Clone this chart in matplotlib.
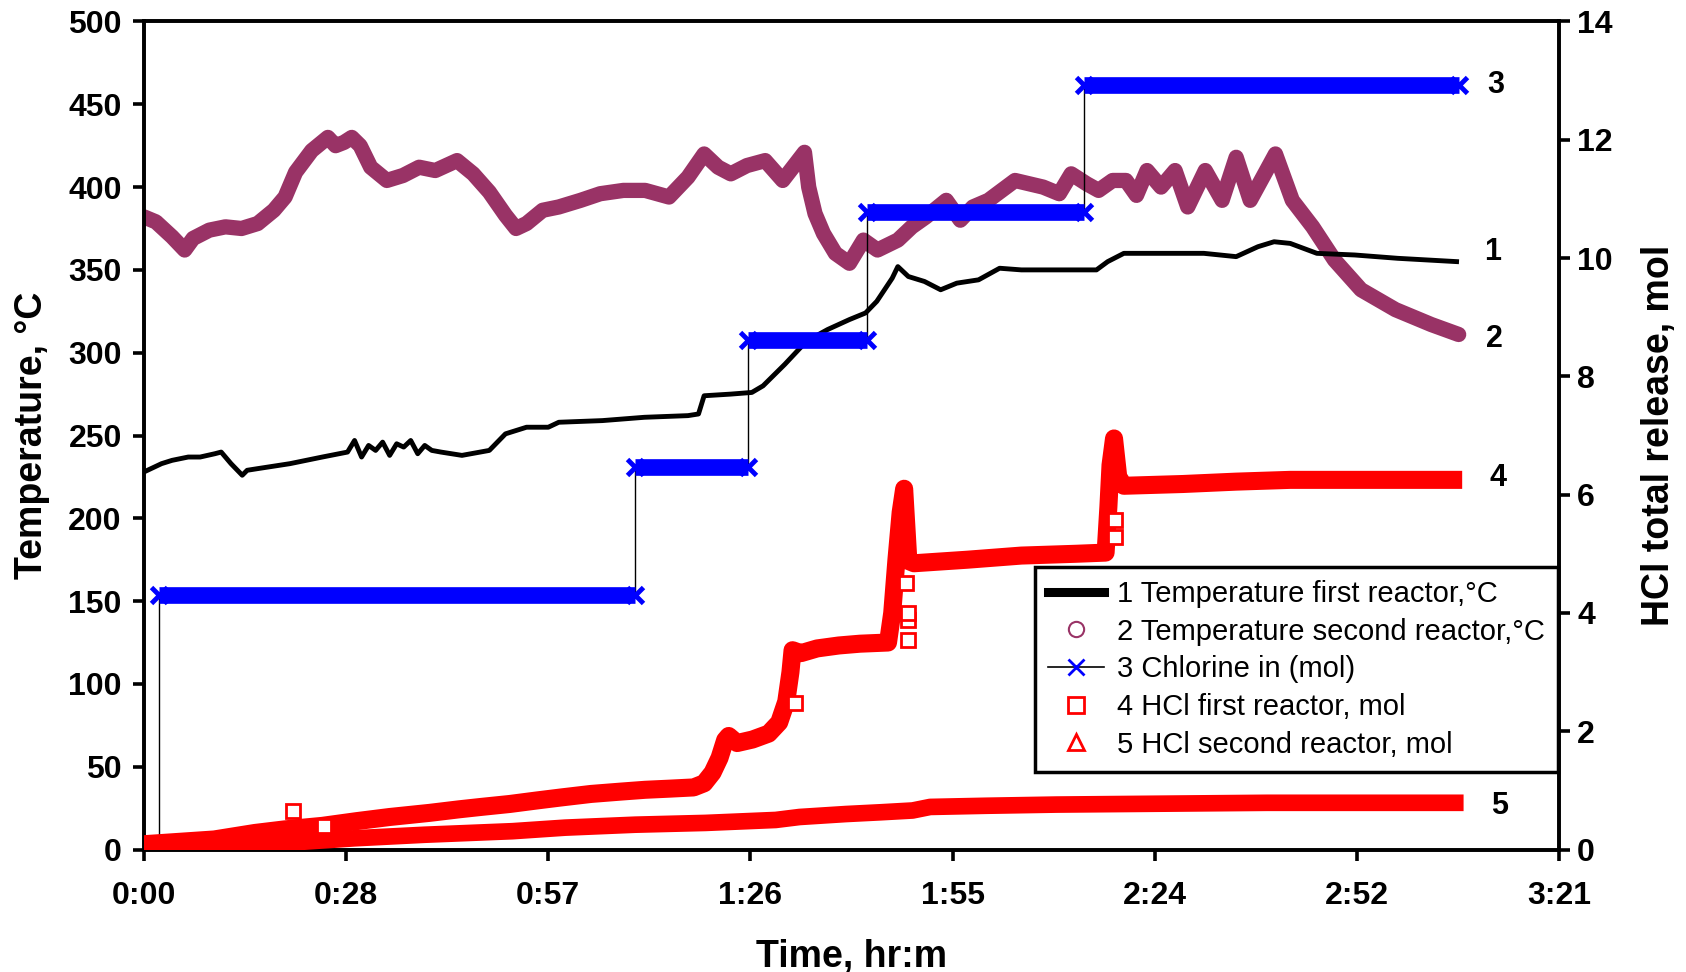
import numpy as np
import matplotlib
matplotlib.use("Agg")
import matplotlib.pyplot as plt
from matplotlib.lines import Line2D

plt.rcParams['font.family'] = ['Liberation Sans', 'DejaVu Sans']
plt.rcParams['font.weight'] = 'bold'

# ---------------- data (time in minutes) ----------------
t_temp1 = [0, 1.5, 2.5, 4.0, 6.3, 8.0, 10.1, 11.0, 12.4, 14.0, 14.7, 16.2, 20.8, 25.4,
           29.0, 30.0, 31.0, 32.0, 33.0, 34.0, 35.0, 36.0, 37.0, 38.0, 39.0, 40.0, 41.0,
           42.3, 45.3, 49.2, 51.5, 54.5, 57.6, 59.1, 65.3, 71.3, 77.5, 79.0, 79.8, 83.6,
           86.6, 88.2, 91.3, 94.4, 97.4, 100.5, 102.8, 104.4, 106.6, 107.4, 108.9, 111.2,
           113.5, 115.8, 118.9, 121.9, 125.0, 129.6, 135.7, 137.3, 139.6, 144.9, 151.0,
           155.6, 158.7, 161.0, 163.3, 167.1, 172.5, 178.6, 187.0]
temp1 = [228, 231, 233, 235, 237, 237, 239, 240, 233, 226, 229, 230, 233, 237,
         240, 247, 237, 244, 241, 246, 238, 245, 243, 247, 239, 244, 241,
         240, 238, 241, 251, 255, 255, 258, 259, 261, 262, 263, 274, 275,
         276, 280, 293, 307, 314, 320, 324, 331, 345, 352, 346, 343,
         338, 342, 344, 351, 350, 350, 350, 355, 360, 360, 360,
         358, 364, 367, 366, 360, 359, 357, 355]

t_temp2 = [0, 1.7, 4.0, 5.8, 7.0, 9.3, 11.6, 13.9, 16.2, 18.5, 20.1, 21.6, 23.9, 26.2,
           27.3, 28.5, 29.6, 30.8, 32.3, 34.6, 36.9, 39.2, 41.5, 44.6, 46.9, 49.2, 51.5,
           53.0, 54.5, 56.8, 59.1, 62.2, 65.0, 68.3, 71.4, 74.8, 77.5, 79.8, 81.8, 83.6,
           85.9, 88.5, 91.0, 94.1, 94.7, 95.6, 96.8, 98.5, 100.5, 102.5, 104.5, 107.4,
           109.4, 111.4, 114.3, 116.3, 118.1, 120.3, 124.1, 128.1, 130.4, 132.1, 134.3,
           136.0, 138.0, 139.9, 141.4, 142.9, 144.9, 146.9, 148.7, 151.2, 153.6, 155.6,
           157.6, 161.2, 163.6, 166.5, 169.6, 173.4, 178.3, 183.4, 187.3]
temp2 = [382, 379, 370, 362, 369, 374, 376, 375, 378, 386, 394, 409, 422, 430,
         425, 427, 430, 425, 412, 404, 407, 412, 410, 416, 408, 397, 383,
         375, 378, 386, 388, 392, 396, 398, 398, 394, 406, 420, 412, 408,
         413, 416, 404, 421, 400, 384, 372, 360, 354, 368, 362, 368,
         376, 382, 392, 380, 388, 392, 404, 400, 396, 408, 402,
         398, 404, 404, 395, 410, 400, 410, 388, 410, 392, 418,
         392, 420, 392, 376, 356, 338, 326, 317, 311]

cl_start_level = 0.0
cl_step_t = [2.1, 69.9, 86.0, 103.0, 133.9]
cl_level = [4.31, 6.47, 8.62, 10.78, 12.93]
cl_end_t = 187.4

t_hcl1 = [0, 5, 10, 15.8, 20, 25.4, 30.3, 35, 40.7, 44.9, 48, 52.1, 56, 59.4, 63.7, 68,
          71.4, 75, 78.3, 79.8, 81.0, 82.0, 82.8, 83.3, 84.5, 86.7, 89.0, 90.5, 91.5,
          92.1, 92.4, 93.6, 95.9, 99.0, 102.0, 106.0, 106.6, 107.2, 107.8, 108.3,
          108.9, 109.7, 117.3, 125.0, 132.7, 137.0, 137.4, 137.7, 138.2, 138.8,
          139.6, 148.0, 155.6, 163.3, 175.0, 187.8]
hcl1 = [0.09, 0.13, 0.17, 0.28, 0.34, 0.40, 0.48, 0.55, 0.62, 0.68, 0.72, 0.77, 0.83,
        0.88, 0.94, 0.98, 1.01, 1.03, 1.05, 1.12, 1.30, 1.55, 1.85, 1.92, 1.80, 1.86,
        1.96, 2.15, 2.5, 3.0, 3.37, 3.32, 3.40, 3.45, 3.48, 3.50, 4.0, 4.9, 5.7, 6.1,
        4.88, 4.84, 4.90, 4.97, 5.0, 5.02, 5.8, 6.5, 6.95, 6.3,
        6.15, 6.18, 6.22, 6.25, 6.25, 6.25]
t_hcl1_extra = [21.3, 25.7, 92.7, 108.9, 108.9, 108.9, 108.6, 138.4, 138.4]
hcl1_extra = [0.65, 0.40, 2.47, 3.55, 3.88, 4.0, 4.5, 5.57, 5.29]

t_hcl2 = [0, 10, 20, 25, 30, 40, 52.5, 60, 70, 80, 90, 93.4, 100, 105, 109.5, 112, 120,
          130, 140, 150, 160, 175, 188]
hcl2 = [0.03, 0.06, 0.11, 0.15, 0.19, 0.25, 0.31, 0.37, 0.42, 0.45, 0.50, 0.55, 0.60,
        0.63, 0.66, 0.72, 0.74, 0.76, 0.77, 0.78, 0.79, 0.79, 0.79]

x_ticks = [0, 28.8, 57.6, 86.4, 115.2, 144.0, 172.8, 201.6]
x_tick_labels = ['0:00', '0:28', '0:57', '1:26', '1:55', '2:24', '2:52', '3:21']
legend_labels = ['1 Temperature first reactor,\u00b0C', '2 Temperature second reactor,\u00b0C',
                 '3 Chlorine in (mol)', '4 HCl first reactor, mol', '5 HCl second reactor, mol']
series_tags = ['1', '2', '3', '4', '5']

# ---------------- styling ----------------
PURPLE = '#993366'
fig = plt.figure(figsize=(16.86, 9.72), dpi=100)
ax = fig.add_axes([0.0854, 0.126, 0.8393, 0.8519])
ax2 = ax.twinx()

ax.plot(t_temp1, temp1, color='black', lw=3.5, zorder=3)
ax.plot(t_temp2, temp2, color=PURPLE, lw=11, solid_joinstyle='round',
        solid_capstyle='round', zorder=2)

# chlorine thin connecting line
step_x = [cl_step_t[0]] + cl_step_t + [cl_end_t]
step_y = [cl_start_level] + cl_level + [cl_level[-1]]
ax2.step(step_x, step_y, where='post', color='black', lw=1.0, zorder=2)
ends = cl_step_t[1:] + [cl_end_t]
for t0, t1, lvl in zip(cl_step_t, ends, cl_level):
    ax2.plot([t0, t1], [lvl, lvl], color='blue', lw=12, solid_capstyle='butt', zorder=4)
    ax2.plot([t0, t1], [lvl, lvl], ls='none', marker='x', ms=12, mew=3.5,
             color='blue', zorder=4)

# HCl
ax2.plot(t_hcl2, hcl2, color='red', lw=12, solid_joinstyle='round',
         solid_capstyle='butt', zorder=3)
ax2.plot(t_hcl1, hcl1, color='red', lw=13, solid_joinstyle='round',
         solid_capstyle='butt', zorder=3)
ax2.plot(t_hcl1_extra, hcl1_extra, ls='none', marker='s', ms=10, mew=2,
         mfc='white', mec='red', zorder=3)

# tags at end of series
ends_t = [t_temp1[-1], t_temp2[-1], cl_end_t, t_hcl1[-1], t_hcl2[-1]]
ends_v = [temp1[-1] * 14 / 500, temp2[-1] * 14 / 500, cl_level[-1], hcl1[-1], hcl2[-1]]
dy = [7, -3, 0, 1, -2]
for tag, tx, ty, d in zip(series_tags, ends_t, ends_v, dy):
    ax2.annotate(tag, (tx, ty), xytext=(20, d), textcoords='offset points',
                 fontsize=22, fontweight='bold', va='center', ha='left',
                 annotation_clip=False)

# axes
ax.set_xlim(0, 201.6)
ax.set_ylim(0, 500)
ax2.set_ylim(0, 14)
ax.set_xticks(x_ticks)
ax.set_xticklabels(x_tick_labels)
ax.set_yticks(np.arange(0, 501, 50))
ax2.set_yticks(np.arange(0, 15, 2))

for a in (ax, ax2):
    for s in a.spines.values():
        s.set_linewidth(2.6)
ax.tick_params(axis='both', direction='out', length=8, width=2.6, labelsize=23)
ax.tick_params(axis='x', pad=15)
ax.tick_params(axis='y', pad=8)
ax2.tick_params(axis='y', direction='out', length=8, width=2.6, labelsize=23, pad=5)

ax.set_xlabel('Time, hr:m', fontsize=27, fontweight='bold', labelpad=20)
ax.set_ylabel('Temperature, \u00b0C', fontsize=27, fontweight='bold', labelpad=13)
ax2.set_ylabel('HCl total release, mol', fontsize=27, fontweight='bold', labelpad=20)

handles = [
    Line2D([], [], color='black', lw=6.5),
    Line2D([], [], ls='none', marker='o', ms=11, mfc='none', mec=PURPLE, mew=1.5),
    Line2D([], [], color='black', lw=1.2, marker='x', ms=12, mec='blue', mew=2),
    Line2D([], [], ls='none', marker='s', ms=11, mfc='none', mec='red', mew=2),
    Line2D([], [], ls='none', marker='^', ms=11, mfc='none', mec='red', mew=2),
]
leg = ax2.legend(handles, legend_labels, loc='lower right', bbox_to_anchor=(0.999, 0.094),
                 borderaxespad=0, prop={'weight': 'normal', 'size': 21},
                 frameon=True, fancybox=False, framealpha=1, edgecolor='black',
                 handlelength=1.9, handletextpad=0.45, labelspacing=0.33, borderpad=0.45)
leg.get_frame().set_linewidth(2.5)
leg.set_zorder(10)

fig.savefig('out.png', dpi=100)
